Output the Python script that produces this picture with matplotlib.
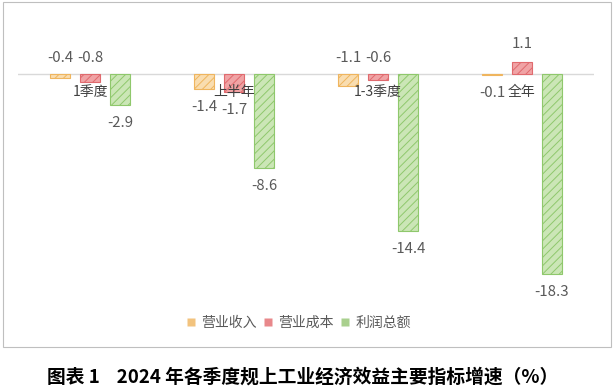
import matplotlib
matplotlib.use("Agg")
import matplotlib.pyplot as plt
from matplotlib.lines import Line2D
from matplotlib.patches import Rectangle
import numpy as np

plt.rcParams['font.family'] = ['Noto Sans CJK SC', 'DejaVu Sans']
plt.rcParams['hatch.linewidth'] = 0.7

categories = ['1季度', '上半年', '1-3季度', '全年']
series_names = ['营业收入', '营业成本', '利润总额']
revenue = [-0.4, -1.4, -1.1, -0.1]
cost = [-0.8, -1.7, -0.6, 1.1]
profit = [-2.9, -8.6, -14.4, -18.3]
caption = '图表 1    2024 年各季度规上工业经济效益主要指标增速（%）'

series = [revenue, cost, profit]
fills = ['#F9DDB0', '#F0A3A5', '#CBE6B6']
edges = ['#EFB55E', '#E06A6E', '#8FC86C']
legend_colors = ['#F2C37E', '#E8888B', '#A9D08E']
# labels drawn above the zero line (series index, category index)
labels_above = {(0, 0), (1, 0), (0, 2), (1, 2)}

W, H = 615, 388
fig = plt.figure(figsize=(W / 100, H / 100), dpi=100)
ax = fig.add_axes([18 / W, 0.2577, (594 - 18) / W, 0.665])

x = np.arange(len(categories))
width = 0.14
offsets = [-0.208, 0.0, 0.208]
for i, vals in enumerate(series):
    ax.bar(x + offsets[i], vals, width, color=fills[i], edgecolor=edges[i],
           hatch='////', linewidth=0.8, zorder=2)
    for j, v in enumerate(vals):
        if (i, j) in labels_above:
            y0, dy = 0, 11.5
        elif v >= 0:
            y0, dy = v, 13
        else:
            y0, dy = v, -13
        ax.annotate(f'{v:.1f}', (x[j] + offsets[i], y0), xytext=(0, dy),
                    textcoords='offset points', ha='center', va='center',
                    fontsize=10.8, color='#595959', zorder=4)

for j, c in enumerate(categories):
    ax.annotate(c, (x[j], 0), xytext=(0, -13), textcoords='offset points',
                ha='center', va='center', fontsize=10, color='#404040', zorder=5)

ax.axhline(0, color='#D9D9D9', linewidth=1, zorder=1)
ax.set_xlim(-0.5, len(categories) - 0.5)
ax.set_ylim(-19.6, 4.0)
ax.axis('off')

handles = [Line2D([], [], marker='s', linestyle='none', markersize=5.5,
                  markerfacecolor=legend_colors[i], markeredgecolor='none')
           for i in range(3)]
fig.legend(handles, series_names, loc='center', ncol=3,
           bbox_to_anchor=(299 / W, 1 - 323 / H), frameon=False,
           fontsize=10, handlelength=0.6, handletextpad=0.45,
           columnspacing=0.5, labelcolor='#595959')

fig.patches.append(Rectangle((3 / W, 1 - 347 / H), 608 / W, 345 / H,
                             transform=fig.transFigure, fill=False,
                             edgecolor='#BFBFBF', linewidth=0.8))

fig.text(303 / W, 1 - 377 / H, caption, ha='center', va='center',
         fontsize=13.5, fontweight='bold', color='#000000')

fig.savefig('out.png', dpi=100)
